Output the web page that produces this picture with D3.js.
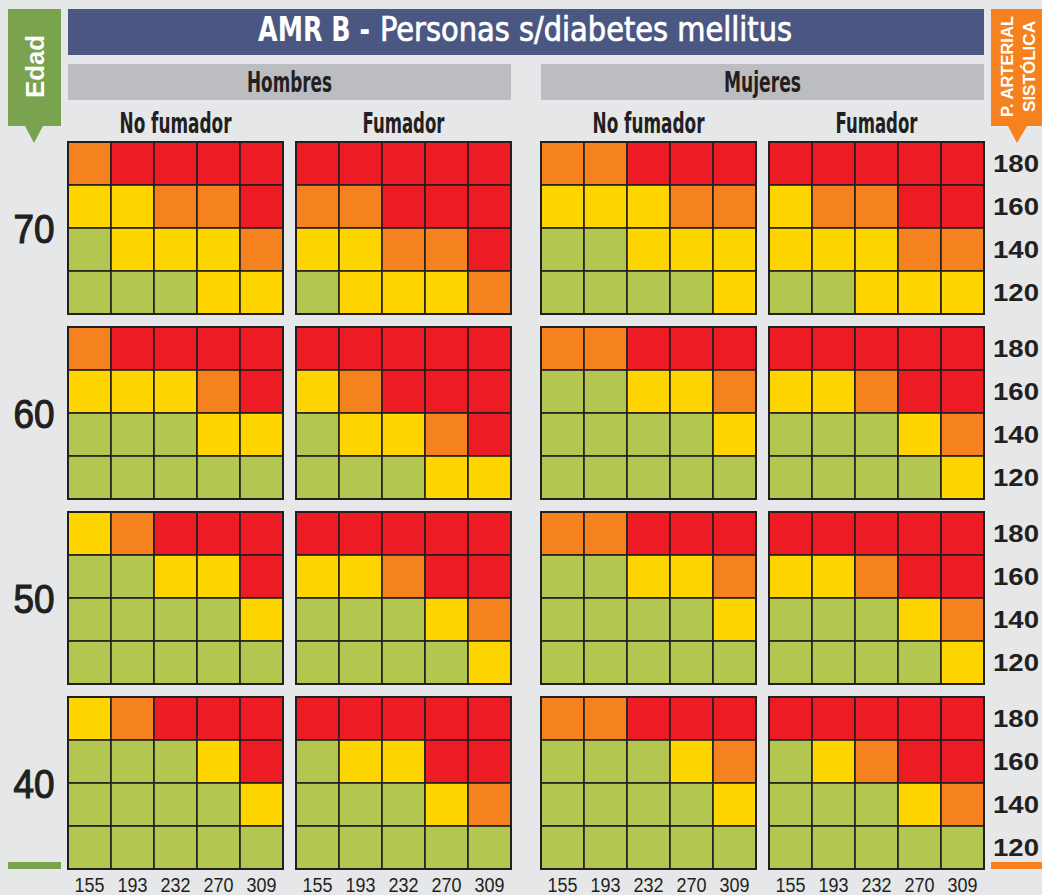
<!DOCTYPE html>
<html>
<head>
<meta charset="utf-8">
<script src="https://cdn.jsdelivr.net/npm/d3@7"></script>
<style>
  body { margin: 0; background: #e6e7e8; }
  svg { display: block; }
</style>
</head>
<body>
<svg id="chart"></svg>
<script>
// categories
const ages = [70, 60, 50, 40];
const sbpTicks = [180, 160, 140, 120];
const cholTicks = [155, 193, 232, 270, 309];
const sexes = ["Hombres", "Mujeres"];
const smokers = ["No fumador", "Fumador"];
const riskColors = ["#b2c650", "#ffd500", "#f5821f", "#ed1c24"]; // 1..4

// risk levels per age (70,60,50,40), rows 180..120, columns 155..309
const riskHombresNoFumador = [
  [[3,4,4,4,4],[2,2,3,3,4],[1,2,2,2,3],[1,1,1,2,2]],
  [[3,4,4,4,4],[2,2,2,3,4],[1,1,1,2,2],[1,1,1,1,1]],
  [[2,3,4,4,4],[1,1,2,2,4],[1,1,1,1,2],[1,1,1,1,1]],
  [[2,3,4,4,4],[1,1,1,2,4],[1,1,1,1,2],[1,1,1,1,1]]
];
const riskHombresFumador = [
  [[4,4,4,4,4],[3,3,4,4,4],[2,2,3,3,4],[1,2,2,2,3]],
  [[4,4,4,4,4],[2,3,4,4,4],[1,2,2,3,4],[1,1,1,2,2]],
  [[4,4,4,4,4],[2,2,3,4,4],[1,1,1,2,3],[1,1,1,1,2]],
  [[4,4,4,4,4],[1,2,2,4,4],[1,1,1,2,3],[1,1,1,1,1]]
];
const riskMujeresNoFumador = [
  [[3,3,4,4,4],[2,2,2,3,3],[1,1,2,2,2],[1,1,1,1,2]],
  [[3,3,4,4,4],[1,1,2,2,3],[1,1,1,1,2],[1,1,1,1,1]],
  [[3,3,4,4,4],[1,1,2,2,3],[1,1,1,1,2],[1,1,1,1,1]],
  [[3,3,4,4,4],[1,1,1,2,3],[1,1,1,1,2],[1,1,1,1,1]]
];
const riskMujeresFumador = [
  [[4,4,4,4,4],[2,3,3,4,4],[2,2,2,3,3],[1,1,2,2,2]],
  [[4,4,4,4,4],[2,2,3,4,4],[1,1,1,2,3],[1,1,1,1,2]],
  [[4,4,4,4,4],[2,2,3,4,4],[1,1,1,2,3],[1,1,1,1,2]],
  [[4,4,4,4,4],[1,2,3,4,4],[1,1,1,2,3],[1,1,1,1,1]]
];

const panels = [
  { sex: "Hombres", smoke: "No fumador", risk: riskHombresNoFumador },
  { sex: "Hombres", smoke: "Fumador", risk: riskHombresFumador },
  { sex: "Mujeres", smoke: "No fumador", risk: riskMujeresNoFumador },
  { sex: "Mujeres", smoke: "Fumador", risk: riskMujeresFumador }
];

const width = 1042, height = 895;
const narrow = "'Liberation Sans Narrow', 'DejaVu Sans Condensed', 'Liberation Sans', sans-serif";
const sans = "'Liberation Sans', Arial, sans-serif";
const ink = "#231f20";

const svg = d3.select("#chart").attr("width", width).attr("height", height);
svg.append("rect").attr("width", width).attr("height", height).attr("fill", "#e6e7e8");

// scales
const sexX = d3.scaleBand().domain(sexes).range([68, 984]).paddingInner(30 / 473);
const smokeX = d3.scaleBand().domain(smokers).range([0, sexX.bandwidth()]).paddingInner(13 / 228);
const ageY = d3.scaleBand().domain(ages).range([142, 869]).paddingInner(13 / 185);
const cellX = d3.scaleBand().domain(cholTicks).range([0, smokeX.bandwidth()]);
const cellY = d3.scaleBand().domain(sbpTicks).range([0, ageY.bandwidth()]);

const panelX = (p) => sexX(p.sex) + smokeX(p.smoke);

// title bar
svg.append("rect").attr("x", 68).attr("y", 9).attr("width", 916).attr("height", 46).attr("fill", "#4a5783");
svg.append("text").attr("x", 258).attr("y", 41)
  .attr("font-family", narrow).attr("font-weight", "bold").attr("font-size", 33)
  .attr("fill", "#fff").attr("textLength", 112).attr("lengthAdjust", "spacingAndGlyphs")
  .text("AMR B -");
svg.append("text").attr("x", 380).attr("y", 41)
  .attr("font-family", narrow).attr("font-size", 33)
  .attr("fill", "#fff").attr("stroke", "#fff").attr("stroke-width", 0.7)
  .attr("textLength", 412).attr("lengthAdjust", "spacingAndGlyphs")
  .text("Personas s/diabetes mellitus");

// sex header bars
const sexW = { Hombres: 85, Mujeres: 77 };
sexes.forEach((s) => {
  svg.append("rect").attr("x", sexX(s)).attr("y", 64)
    .attr("width", sexX.bandwidth()).attr("height", 36).attr("fill", "#bcbdc0");
  svg.append("text").attr("x", sexX(s) + sexX.bandwidth() / 2).attr("y", 92)
    .attr("text-anchor", "middle").attr("font-family", narrow).attr("font-weight", "bold")
    .attr("font-size", 29).attr("fill", ink)
    .attr("textLength", sexW[s]).attr("lengthAdjust", "spacingAndGlyphs")
    .text(s);
});

// smoker headers
const smokeW = { "No fumador": 112, "Fumador": 82 };
panels.forEach((p) => {
  svg.append("text").attr("x", panelX(p) + smokeX.bandwidth() / 2).attr("y", 133)
    .attr("text-anchor", "middle").attr("font-family", narrow).attr("font-weight", "bold")
    .attr("font-size", 29).attr("fill", ink)
    .attr("textLength", smokeW[p.smoke]).attr("lengthAdjust", "spacingAndGlyphs")
    .text(p.smoke);
});

// Edad tab
svg.append("path").attr("d", "M8,9H61V126H43L34,143L25,126H8Z").attr("fill", "#7aa34f");
svg.append("text").attr("transform", "translate(44,66.5) rotate(-90)")
  .attr("text-anchor", "middle").attr("font-family", sans).attr("font-weight", "bold")
  .attr("font-size", 26).attr("fill", "#fff")
  .attr("textLength", 63).attr("lengthAdjust", "spacingAndGlyphs").text("Edad");
svg.append("rect").attr("x", 8).attr("y", 862).attr("width", 53).attr("height", 7).attr("fill", "#7aa34f");

// P. arterial tab
svg.append("path").attr("d", "M991,9H1042V126H1027L1017,143L1008,126H991Z").attr("fill", "#f5821f");
svg.append("text").attr("transform", "translate(1013,66.5) rotate(-90)")
  .attr("text-anchor", "middle").attr("font-family", sans).attr("font-weight", "bold")
  .attr("font-size", 16).attr("fill", "#fff")
  .attr("textLength", 101).attr("lengthAdjust", "spacingAndGlyphs").text("P. ARTERIAL");
svg.append("text").attr("transform", "translate(1035,66.5) rotate(-90)")
  .attr("text-anchor", "middle").attr("font-family", sans).attr("font-weight", "bold")
  .attr("font-size", 16).attr("fill", "#fff")
  .attr("textLength", 91).attr("lengthAdjust", "spacingAndGlyphs").text("SISTÓLICA");
svg.append("rect").attr("x", 991).attr("y", 862).attr("width", 51).attr("height", 7).attr("fill", "#f5821f");

// age labels
svg.append("g").selectAll("text").data(ages).join("text")
  .attr("x", 34).attr("y", (a) => ageY(a) + ageY.bandwidth() / 2 + 15)
  .attr("text-anchor", "middle").attr("font-family", sans)
  .attr("font-size", 41).attr("fill", ink).attr("stroke", ink).attr("stroke-width", 1.2)
  .attr("textLength", 41).attr("lengthAdjust", "spacingAndGlyphs")
  .text((a) => a);

// SBP labels on the right
ages.forEach((a) => {
  svg.append("g").selectAll("text").data(sbpTicks).join("text")
    .attr("x", 993).attr("y", (t) => ageY(a) + cellY(t) + cellY.bandwidth() / 2 + 8.5)
    .attr("font-family", sans).attr("font-weight", "bold")
    .attr("font-size", 24).attr("fill", ink)
    .attr("textLength", 46).attr("lengthAdjust", "spacingAndGlyphs")
    .text((t) => t);
});

// cells
const cells = [];
panels.forEach((p) => {
  ages.forEach((a, ai) => {
    sbpTicks.forEach((s, si) => {
      cholTicks.forEach((c, ci) => {
        cells.push({ p, a, s, c, level: p.risk[ai][si][ci] });
      });
    });
  });
});

svg.append("g").selectAll("rect").data(cells).join("rect")
  .attr("x", (d) => panelX(d.p) + cellX(d.c))
  .attr("y", (d) => ageY(d.a) + cellY(d.s))
  .attr("width", cellX.bandwidth())
  .attr("height", cellY.bandwidth())
  .attr("fill", (d) => riskColors[d.level - 1])
  .attr("stroke", ink).attr("stroke-width", 1.6);

// panel outlines
panels.forEach((p) => {
  ages.forEach((a) => {
    svg.append("rect").attr("x", panelX(p)).attr("y", ageY(a))
      .attr("width", smokeX.bandwidth()).attr("height", ageY.bandwidth())
      .attr("fill", "none").attr("stroke", ink).attr("stroke-width", 2);
  });
});

// cholesterol labels under each panel
panels.forEach((p) => {
  svg.append("g").selectAll("text").data(cholTicks).join("text")
    .attr("x", (c) => panelX(p) + cellX(c) + cellX.bandwidth() / 2)
    .attr("y", 892).attr("text-anchor", "middle")
    .attr("font-family", sans).attr("font-size", 20).attr("fill", ink)
    .attr("textLength", 30).attr("lengthAdjust", "spacingAndGlyphs")
    .text((c) => c);
});
</script>
</body>
</html>
